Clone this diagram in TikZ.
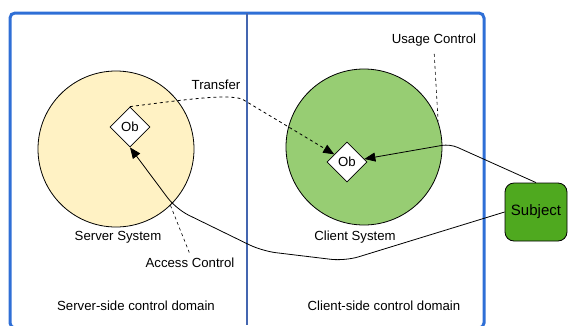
\documentclass[tikz,border=0pt]{standalone}
\usepackage{fontspec}
\setmainfont{Liberation Sans}
\usepackage{tikz}
\usetikzlibrary{arrows.meta}
\usetikzlibrary{shapes.geometric}
\definecolor{frameblue}{HTML}{2F6FD6}
\definecolor{divblue}{HTML}{4466B0}
\definecolor{serverfill}{HTML}{FFF2C4}
\definecolor{clientfill}{HTML}{97CD73}
\definecolor{subjfill}{HTML}{4FA91F}
\tikzset{l/.style={font=\fontsize{13.2}{13.2}\selectfont}}
\tikzset{sys/.style={circle,draw,minimum size=156pt,inner sep=0pt}}
\tikzset{ob/.style={diamond,draw,fill=white,minimum size=40pt,inner sep=0pt,l}}
\tikzset{tip/.style={-{Triangle[length=11pt,width=9pt]}}}

\begin{document}
\begin{tikzpicture}[x=1pt,y=-1pt,line width=0.8pt]
        \useasboundingbox (0,0) rectangle (568,325);
        \draw[frameblue,line width=3pt,rounded corners=5pt] (10,13) rectangle (484,328);
        \draw[divblue,line width=1.2pt] (247,13) -- (247,325);
        \node[sys,fill=serverfill] (S) at (116,149) {};
        \node[sys,fill=clientfill] (C) at (364,147) {};
        \node[ob] (obS) at (130,127) {Ob};
        \node[ob] (obC) at (347,162) {Ob};
        \node[draw,fill=subjfill,rounded corners=9pt,minimum width=62pt,minimum height=58pt,
          font=\fontsize{15}{15}\selectfont] (sub) at (536,212) {Subject};
        \begin{scope}[l]
          \node (sS) at (118,237) {Server System};
          \node (sC) at (355,237) {Client System};
          \node (tr) at (216,85) {Transfer};
          \node (ac) at (190,263) {Access Control};
          \node (uc) at (434,40) {Usage Control};
          \node (dS) at (136,306) {Server-side control domain};
          \node (dC) at (384,306) {Client-side control domain};
        \end{scope}
        % transfer of the object
        \coordinate (t1) at (242,99);
        \draw[dashed,tip] (obS.north) .. controls (190,99) and (226,94) .. (t1) -- (obC);
        % usage and access paths from the subject
        \draw[tip,rounded corners=8pt] (sub.north) -- (450,144) -- (obC);
        \draw[tip,rounded corners=14pt] (sub.west) -- (345,261) -- (262,251) -- (176,209) -- (obS.south);
        % callouts
        \draw[dashed,line width=0.6pt,shorten >=2pt] (S.-46) -- (ac.north);
        \draw[dashed,line width=0.6pt,shorten <=4pt] (uc.south) -- (C.19);
      \end{tikzpicture}
\end{document}
